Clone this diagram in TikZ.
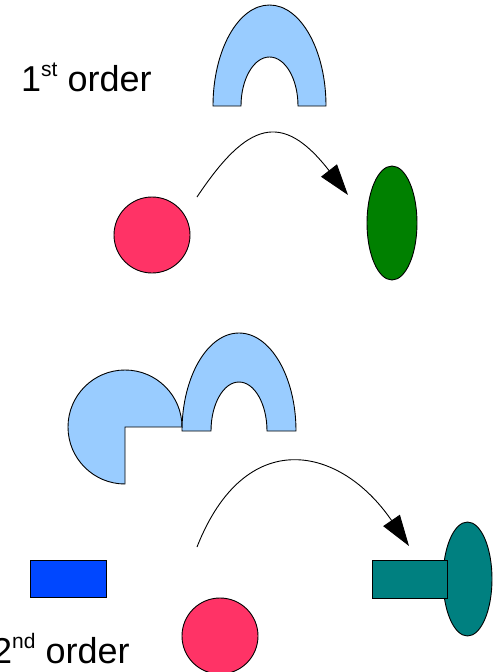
\documentclass[tikz,border=0pt]{standalone}
\usepackage{fontspec}
\setmainfont{Liberation Sans}
\usetikzlibrary{arrows.meta,shapes.geometric}
\definecolor{archblue}{HTML}{99CCFF}
\definecolor{pinkred}{HTML}{FF3366}
\definecolor{darkgreen}{HTML}{008000}
\definecolor{brightblue}{HTML}{0047FF}
\definecolor{tealc}{HTML}{008080}
\tikzset{
  shapeline/.style={draw=black, line width=0.9pt},
  ball/.style={shapeline, circle, fill=pinkred, minimum size=76pt, inner sep=0pt},
  flow/.style={line width=0.9pt, -{Triangle[length=31pt,width=20pt]}},
  label/.style={anchor=base west, inner sep=0pt, font=\fontsize{36}{43}\selectfont}
}
\begin{document}
\begin{tikzpicture}[x=1pt,y=-1pt]
\useasboundingbox (0,0) rectangle (499,672);
% labels
\node[label] (l1) at (21,91) {1\raisebox{15pt}{\fontsize{21}{21}\selectfont st} order};
\node[label] (l2) at (-8,663) {2\raisebox{15pt}{\fontsize{21}{21}\selectfont nd} order};
% first order
\draw[shapeline, fill=archblue] (213,106) arc[start angle=180, end angle=360, x radius=56.5, y radius=101]
  -- (298,106) arc[start angle=0, end angle=-180, x radius=28.5, y radius=49] -- cycle;
\node[ball] (c1) at (152,235) {};
\node[shapeline, ellipse, fill=darkgreen, minimum width=50pt, minimum height=114pt, inner sep=0pt] (e1) at (392,223) {};
\coordinate (a1s) at (197,197);
\coordinate (a1e) at (348,195);
\draw[flow] (a1s) .. controls (247,122) and (282,110) .. (a1e);
% second order
\draw[shapeline, fill=archblue] (125,427) -- (125,484) arc[start angle=90, end angle=360, radius=57] -- cycle;
\draw[shapeline, fill=archblue] (182,431) arc[start angle=180, end angle=360, x radius=57, y radius=98]
  -- (267,431) arc[start angle=0, end angle=-180, x radius=28, y radius=49] -- cycle;
\node[shapeline, rectangle, fill=brightblue, minimum width=76pt, minimum height=37pt, inner sep=0pt] (r1) at (68,578.5) {};
\node[ball] (c2) at (220,636) {};
\node[shapeline, ellipse, fill=tealc, minimum width=49pt, minimum height=114pt, inner sep=0pt] (e2) at (467.5,579) {};
\node[shapeline, rectangle, fill=tealc, minimum width=75pt, minimum height=38pt, inner sep=0pt] (r2) at (409.5,579) {};
\coordinate (a2s) at (197,547);
\coordinate (a2e) at (409,546);
\draw[flow] (a2s) .. controls (245,425) and (340,445) .. (a2e);
\end{tikzpicture}
\end{document}
